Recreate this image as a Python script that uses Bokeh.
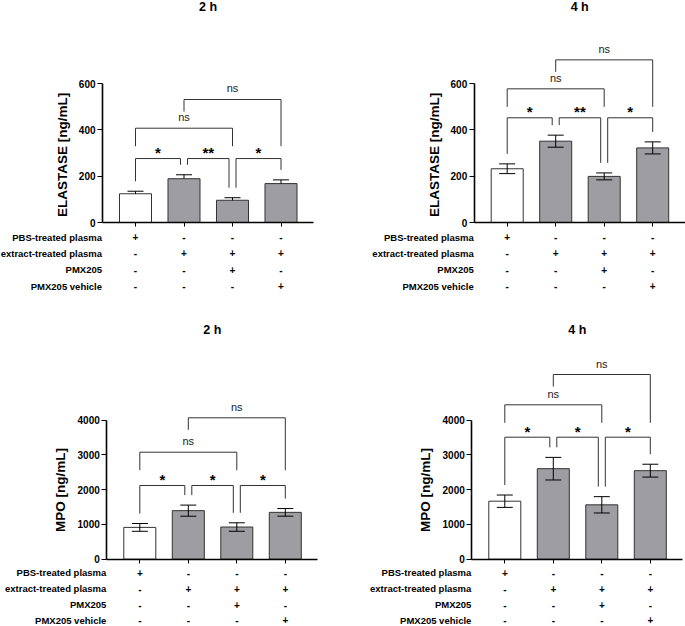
from bokeh.plotting import figure
from bokeh.models import Range1d, FixedTicker
from bokeh.layouts import column, row
from bokeh.embed import file_html
from bokeh.resources import INLINE
from bokeh.core.properties import value

# ---------------- data ----------------
groups = [1, 2, 3, 4]
row_labels = ["PBS-treated plasma", "extract-treated plasma", "PMX205", "PMX205 vehicle"]
table = [["+", "-", "-", "-"],
         ["-", "+", "+", "+"],
         ["-", "-", "+", "-"],
         ["-", "-", "-", "+"]]

titles = ["2 h", "4 h", "2 h", "4 h"]
ylabels = ["ELASTASE  [ng/mL]", "ELASTASE  [ng/mL]", "MPO [ng/mL]", "MPO [ng/mL]"]

elastase_2h = [124, 189, 96, 168]
elastase_2h_sem = [11, 17, 11, 16]
elastase_4h = [232, 351, 199, 322]
elastase_4h_sem = [21, 26, 15, 26]
mpo_2h = [915, 1397, 926, 1348]
mpo_2h_sem = [112, 160, 122, 110]
mpo_4h = [1669, 2605, 1565, 2548]
mpo_4h_sem = [178, 325, 235, 185]

elastase_ticks = [0, 200, 400, 600]
mpo_ticks = [0, 1000, 2000, 3000, 4000]

pairs = [(1, 2), (2, 3), (3, 4), (1, 3), (2, 4)]
elastase_2h_sig = ["*", "**", "*", "ns", "ns"]
elastase_4h_sig = ["*", "**", "*", "ns", "ns"]
mpo_2h_sig = ["*", "*", "*", "ns", "ns"]
mpo_4h_sig = ["*", "*", "*", "ns", "ns"]
elastase_2h_bracket_y = [276, 276, 276, 407, 531]
elastase_4h_bracket_y = [452, 452, 452, 577, 702]
mpo_2h_bracket_y = [2121, 2121, 2121, 3079, 4069]
mpo_4h_bracket_y = [3511, 3511, 3511, 4443, 5315]

# ---------------- style / layout ----------------
FONT = "Liberation Sans"
H = 313
PX_PER_CAT = 48.5
BAR_W = 0.66
AX_X0, AX_X1 = 0.32, 4.67
GRAY = "#9e9ea2"
EDGE = "#333333"
LINE = "#333333"


def make_panel(title, ylabel, means, sems, ticks, sig, bracket_y,
               width, bar1_px, zero_px, top_px, title_px, up_only, row0, row_step):
    x0 = 1 - bar1_px / PX_PER_CAT
    k = (zero_px - top_px) / ticks[-1]          # px per data unit
    p = figure(width=width, height=H,
               x_range=Range1d(x0, x0 + width / PX_PER_CAT),
               y_range=Range1d(-(H - zero_px) / k, zero_px / k),
               output_backend="svg", toolbar_location=None,
               min_border=0, outline_line_color=None,
               background_fill_color="white", border_fill_color="white")
    p.extra_y_ranges = {"px": Range1d(H, 0)}
    p.grid.visible = False

    # axes
    p.xaxis.fixed_location = 0
    p.xaxis.bounds = (AX_X0, AX_X1)
    p.xaxis.ticker = FixedTicker(ticks=groups)
    p.xaxis.major_label_text_color = None
    p.xaxis.axis_line_width = 1.6
    p.xaxis.axis_line_color = "black"
    p.xaxis.major_tick_out = 4
    p.xaxis.major_tick_in = 0
    p.xaxis.major_tick_line_color = "black"
    p.xaxis.minor_tick_line_color = None

    p.yaxis.fixed_location = AX_X0
    p.yaxis.bounds = (0, ticks[-1])
    p.yaxis.ticker = FixedTicker(ticks=ticks)
    p.yaxis.axis_line_width = 1.6
    p.yaxis.axis_line_color = "black"
    p.yaxis.major_tick_out = 5
    p.yaxis.major_tick_in = 0
    p.yaxis.major_tick_line_width = 1.2
    p.yaxis.major_tick_line_color = "black"
    p.yaxis.minor_tick_line_color = None
    p.yaxis.major_label_standoff = 2
    p.yaxis.major_label_text_font = FONT
    p.yaxis.major_label_text_font_style = "bold"
    p.yaxis.major_label_text_font_size = "10px"
    p.yaxis.major_label_text_color = "black"
    p.yaxis.axis_label = ylabel
    p.yaxis.axis_label_text_font = FONT
    p.yaxis.axis_label_text_font_style = "bold"
    p.yaxis.axis_label_text_font_size = "13.5px"
    p.yaxis.axis_label_text_color = "black"
    p.yaxis.axis_label_standoff = 6

    # bars
    colors = ["white", GRAY, GRAY, GRAY]
    p.vbar(x=groups, top=means, bottom=0, width=BAR_W, fill_color=colors,
           line_color=EDGE, line_width=1)

    # error bars
    upper = [m + s for m, s in zip(means, sems)]
    lower = [m if up_only else m - s for m, s in zip(means, sems)]
    cap = 0.165
    p.segment(x0=groups, y0=lower, x1=groups, y1=upper, line_color="black", line_width=1)
    p.segment(x0=[g - cap for g in groups], y0=upper, x1=[g + cap for g in groups], y1=upper,
              line_color="black", line_width=1)
    if not up_only:
        p.segment(x0=[g - cap for g in groups], y0=lower, x1=[g + cap for g in groups], y1=lower,
                  line_color="black", line_width=1)

    # significance brackets
    off = 3.5 / PX_PER_CAT
    gap = 10 / k
    bx0, by0, bx1, by1 = [], [], [], []
    star_x, star_y, star_t = [], [], []
    ns_x, ns_y, ns_t = [], [], []
    lev2_y = bracket_y[3]
    for n, ((i, j), y, lab) in enumerate(zip(pairs, bracket_y, sig)):
        if j - i == 1:
            xl = i + (off if i != 1 else 0)
            xr = j - (off if j != 4 else 0)
            ll = upper[i - 1] + gap
            lr = upper[j - 1] + gap
        elif n == 3:
            xl, xr = i, j
            ll = lr = y - 18 / k
        else:
            xl, xr = i, j
            ll = y - 12 / k
            lr = lev2_y - 18 / k
        bx0 += [xl, xl, xr]
        by0 += [ll, y, y]
        bx1 += [xl, xr, xr]
        by1 += [y, y, lr]
        if lab == "ns":
            ns_x.append((xl + xr) / 2); ns_y.append(y); ns_t.append(lab)
        else:
            star_x.append((xl + xr) / 2); star_y.append(y); star_t.append(lab)
    p.segment(x0=bx0, y0=by0, x1=bx1, y1=by1, line_color=LINE, line_width=1)
    p.text(x=star_x, y=star_y, text=star_t, text_font=value(FONT), text_font_style="bold",
           text_font_size="15px", text_align="center", text_baseline="middle",
           y_offset=-6, text_color="black")
    p.text(x=ns_x, y=ns_y, text=ns_t, text_font=value(FONT),
           text_font_size="11px", text_align="center", text_baseline="middle",
           y_offset=-11, text_color="#222222")

    # title
    p.text(x=[(AX_X0 + AX_X1) / 2], y=[title_px], text=[title], y_range_name="px",
           text_font=value(FONT), text_font_style="bold", text_font_size="12.5px",
           text_align="center", text_baseline="middle", text_color="black")

    # treatment table
    row_y = [zero_px + row0 + row_step * r for r in range(len(row_labels))]
    tx, ty, tt = [], [], []
    for r, cells in enumerate(table):
        for g, c in zip(groups, cells):
            tx.append(g); ty.append(row_y[r]); tt.append(c)
    p.text(x=tx, y=ty, text=tt, y_range_name="px", text_font=value(FONT),
           text_font_style="bold", text_font_size="10px", text_align="center",
           text_baseline="middle", text_color="black")
    p.text(x=[AX_X0 - 0.01] * len(row_labels), y=row_y,
           text=row_labels, y_range_name="px", text_font=value(FONT),
           text_font_style="bold", text_font_size="9.5px", text_align="right",
           text_baseline="middle", text_color="black")
    return p


p1 = make_panel(titles[0], ylabels[0], elastase_2h, elastase_2h_sem, elastase_ticks,
                elastase_2h_sig, elastase_2h_bracket_y, 342, 135, 222, 83, 6, True, 14.5, 16.4)
p2 = make_panel(titles[1], ylabels[1], elastase_4h, elastase_4h_sem, elastase_ticks,
                elastase_4h_sig, elastase_4h_bracket_y, 343, 164.7, 222, 83, 6, False, 14.5, 16.4)
p3 = make_panel(titles[2], ylabels[2], mpo_2h, mpo_2h_sem, mpo_ticks,
                mpo_2h_sig, mpo_2h_bracket_y, 342, 139.3, 245.7, 106.7, 16, False, 13.5, 15.9)
p4 = make_panel(titles[3], ylabels[3], mpo_4h, mpo_4h_sem, mpo_ticks,
                mpo_4h_sig, mpo_4h_bracket_y, 343, 162.3, 245.7, 106.7, 16, False, 13.5, 15.9)

layout = column(row(p1, p2), row(p3, p4))
open("out.html", "w").write(file_html(layout, INLINE))
